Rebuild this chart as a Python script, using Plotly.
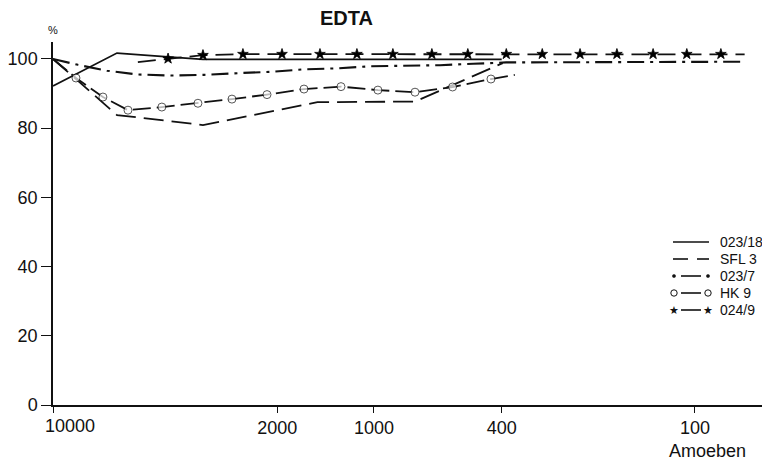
import math
import plotly.graph_objects as go

# ---- data (x = number of amoebae, y = %) ----
x_023_18 = [10000, 6320, 4380, 3410, 400]
y_023_18 = [92.2, 101.7, 100.6, 99.9, 99.9]

x_sfl3 = [10000, 6320, 3410, 1500, 745, 397]
y_sfl3 = [100.0, 83.8, 80.9, 87.5, 87.7, 98.8]

x_023_7 = [10000, 8360, 6790, 5440, 4260, 3385, 2650, 2080, 1650, 1295, 1020, 789, 623, 491, 387, 70]
y_023_7 = [100.0, 98.3, 96.6, 95.5, 95.2, 95.4, 95.9, 96.3, 97.0, 97.3, 97.9, 98.0, 98.2, 98.6, 99.0, 99.2]

x_hk9 = [10000, 8480, 6990, 5840, 4580, 3535, 2770, 2154, 1652, 1267, 972, 745, 569, 432, 364]
y_hk9 = [100.0, 94.5, 89.0, 85.2, 86.1, 87.2, 88.4, 89.7, 91.3, 92.0, 91.0, 90.4, 91.9, 94.2, 95.4]

x_024_9 = [5440, 4380, 3410, 2560, 1934, 1473, 1130, 873, 660, 510, 387, 299, 228, 175, 135, 106, 83, 70]
y_024_9 = [99.1, 100.1, 101.1, 101.4, 101.4, 101.4, 101.4, 101.4, 101.4, 101.4, 101.4, 101.4, 101.4, 101.4, 101.4, 101.4, 101.4, 101.3]

series_names = ["023/18", "SFL 3", "023/7", "HK 9", "024/9"]

x_tickvals = [10000, 2000, 1000, 400, 100]
x_ticktext = ["10000", "2000", "1000", "400", "100"]
y_tickvals = [0, 20, 40, 60, 80, 100]

FONT = "Liberation Sans, Arial, Helvetica, sans-serif"
BLACK = "#111111"

# page is offset by the 8px body margin
W, H = 762, 463
ML, MR, MT, MB = 45, 8, 34, 66
PW, PH = W - ML - MR, H - MT - MB
OFF = 8


def px(xp):  # page x -> paper x
    return (xp - OFF - ML) / PW


def py(yp):  # page y -> paper y
    return (H - MB - (yp - OFF)) / PH


def inner_sizes(n, size):
    return [0] + [size] * (n - 2) + [0]


styles = {
    "023/18": dict(color=BLACK, width=1.8),
    "SFL 3": dict(color=BLACK, width=1.8, dash="20px,8px"),
    "023/7": dict(color=BLACK, width=2.1, dash="17px,6px,3px,6px"),
    "HK 9": dict(color=BLACK, width=1.8, dash="18px,6px"),
    "024/9": dict(color=BLACK, width=1.8, dash="18px,8px"),
}

fig = go.Figure()

fig.add_trace(go.Scatter(x=x_023_18, y=y_023_18, name="023/18", mode="lines",
                         line=styles["023/18"]))
fig.add_trace(go.Scatter(x=x_sfl3, y=y_sfl3, name="SFL 3", mode="lines",
                         line=styles["SFL 3"]))
fig.add_trace(go.Scatter(x=x_023_7, y=y_023_7, name="023/7", mode="lines",
                         line=styles["023/7"]))
fig.add_trace(go.Scatter(x=x_hk9, y=y_hk9, name="HK 9", mode="lines+markers",
                         line=styles["HK 9"],
                         marker=dict(symbol="circle", size=inner_sizes(len(x_hk9), 8),
                                     color="white", line=dict(color=BLACK, width=1))))
fig.add_trace(go.Scatter(x=x_024_9, y=y_024_9, name="024/9", mode="lines+markers",
                         line=styles["024/9"],
                         marker=dict(symbol="star", size=inner_sizes(len(x_024_9), 8),
                                     color="black", opacity=1,
                                     line=dict(color="black", width=0.8))))

# ---- hand-made legend (as in the reference: symbol - line - symbol) ----
shapes = []
annotations = []
row_y = [242, 259, 276, 293, 310]
lx0, lx1, tx = 673, 709, 718
for name, yy in zip(series_names, row_y):
    if name == "023/18":
        shapes.append(dict(type="line", xref="paper", yref="paper",
                           x0=px(lx0), x1=px(lx1), y0=py(yy), y1=py(yy),
                           line=dict(color=BLACK, width=1.6)))
    elif name == "SFL 3":
        for a, b in [(lx0, lx0 + 15), (lx0 + 24, lx1)]:
            shapes.append(dict(type="line", xref="paper", yref="paper",
                               x0=px(a), x1=px(b), y0=py(yy), y1=py(yy),
                               line=dict(color=BLACK, width=1.6)))
    else:
        shapes.append(dict(type="line", xref="paper", yref="paper",
                           x0=px(lx0 + 8), x1=px(lx1 - 8), y0=py(yy), y1=py(yy),
                           line=dict(color=BLACK, width=1.6)))
        for cx in (lx0 + 1, lx1 - 1):
            if name == "023/7":
                r, fill, lw = 1.6, BLACK, 0.5
            elif name == "HK 9":
                r, fill, lw = 3.2, "white", 1
            else:
                r = None
            if r is not None:
                shapes.append(dict(type="circle", xref="paper", yref="paper",
                                   x0=px(cx - r), x1=px(cx + r),
                                   y0=py(yy + r), y1=py(yy - r),
                                   fillcolor=fill, line=dict(color=BLACK, width=lw)))
            else:
                annotations.append(dict(text="\u2605", xref="paper", yref="paper",
                                        x=px(cx), y=py(yy), showarrow=False,
                                        xanchor="center", yanchor="middle",
                                        font=dict(size=11, family="DejaVu Sans", color=BLACK)))
    annotations.append(dict(text=name, xref="paper", yref="paper",
                            x=px(tx), y=py(yy), showarrow=False,
                            xanchor="left", yanchor="middle",
                            font=dict(size=14, family=FONT, color=BLACK)))

# first x tick label sits to the right of the axis corner, as in the reference
shown_ticktext = [""] + x_ticktext[1:]
annotations.append(dict(text=x_ticktext[0], xref="x", yref="paper",
                        x=math.log10(x_tickvals[0]), y=0, yanchor="top",
                        xanchor="center", xshift=17, yshift=-9, showarrow=False,
                        font=dict(size=18, family=FONT, color=BLACK)))

annotations += [
    dict(text="<b>EDTA</b>", xref="paper", yref="paper", x=px(346), y=py(18),
         showarrow=False, font=dict(size=20, family=FONT, color=BLACK),
         xanchor="center", yanchor="middle"),
    dict(text="%", xref="paper", yref="paper", x=px(53), y=py(30),
         showarrow=False, font=dict(size=11, family=FONT, color=BLACK),
         xanchor="center", yanchor="middle"),
    dict(text="Amoeben", xref="paper", yref="paper", x=px(707), y=py(451),
         showarrow=False, font=dict(size=18, family=FONT, color=BLACK),
         xanchor="center", yanchor="middle"),
]

fig.update_layout(
    width=W, height=H,
    margin=dict(l=ML, r=MR, t=MT, b=MB, autoexpand=False),
    paper_bgcolor="white", plot_bgcolor="white",
    font=dict(family=FONT, color=BLACK, size=18),
    showlegend=False,
    xaxis=dict(type="log", range=[4, 1.791], showgrid=False, zeroline=False,
               automargin=False,
               showline=True, linecolor=BLACK, linewidth=1.5,
               ticks="outside", ticklen=6, tickwidth=1.2, tickcolor=BLACK,
               tickvals=x_tickvals, ticktext=shown_ticktext,
               tickfont=dict(size=18, family=FONT, color=BLACK)),
    yaxis=dict(range=[0, 104.9], showgrid=False, zeroline=False,
               automargin=False,
               showline=True, linecolor=BLACK, linewidth=1.5,
               ticks="outside", ticklen=10, tickwidth=1.2, tickcolor=BLACK,
               tickvals=y_tickvals,
               tickfont=dict(size=18, family=FONT, color=BLACK)),
    shapes=shapes,
    annotations=annotations,
)

fig.write_html("out.html")
